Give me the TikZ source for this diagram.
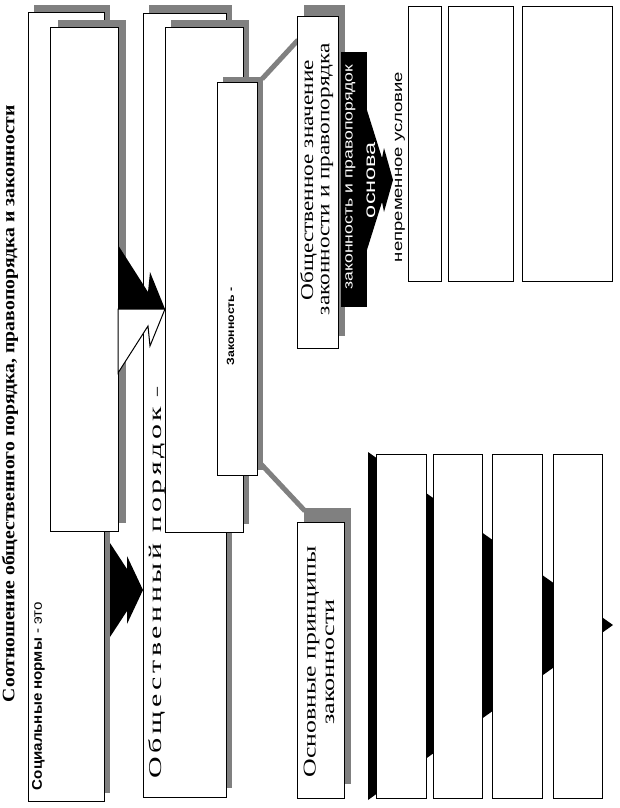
\documentclass[tikz,border=0pt]{standalone}
\usepackage{fontspec}
\setmainfont{Liberation Serif}
\setsansfont{Liberation Sans}
\usetikzlibrary{calc,backgrounds}
\definecolor{shd}{RGB}{128,128,128}
\newcommand\fitlen[2]{\resizebox{#1pt}{\height}{#2}}
% name, x1, y1, x2, y2, shadow dx, shadow up
\newcommand\shbox[7]{%
  \fill[shd] (#2+#6,#3-#7) rectangle (#4+#6,#5-#7);
  \node[box,minimum width={#4-#2},minimum height={#5-#3}] (#1) at (#2,#3) {};}
\newcommand\plainbox[5]{%
  \node[box,minimum width={#4-#2},minimum height={#5-#3}] (#1) at (#2,#3) {};}
\begin{document}
\begin{tikzpicture}[x=1pt,y=-1pt,
  box/.style={draw=black,line width=1pt,fill=white,inner sep=0pt,outer sep=0pt,anchor=north west},
  conn/.style={draw=shd,line width=5pt},
  lbl/.style={inner sep=0pt,rotate=90,anchor=center},
  serifA/.style={font=\fontsize{18}{20}\selectfont},
  sansA/.style={font=\fontsize{13.5}{15}\selectfont\sffamily}]
\useasboundingbox (0,0) rectangle (619,808);

% left stacks
\shbox{A}{28}{13}{104}{801}{6}{8}
\shbox{B}{50}{28}{118}{531}{8}{8}
\shbox{C}{143}{14}{226}{797}{6}{9}
\shbox{D}{165}{28}{243}{532}{6}{8}

\shbox{E}{217}{82}{257}{475}{6}{5}
\shbox{F}{297}{17}{338}{348}{7}{12}
\shbox{G}{297}{522}{344}{798}{7}{14}

% connectors from E to F and G (behind the boxes and shadows)
\begin{pgfonlayer}{background}
\fill[white] (0,0) rectangle (619,808);
\draw[conn] ($(E.north east)+(5,-3)$) -- ($(F.north west)+(1,23)$);
\draw[conn] ($(E.south east)+(3,-12)$) -- ($(G.north west)+(8,-11)$);
\end{pgfonlayer}

% chevron A -> C
\fill[black] (110,543) -- (127,569) -- (127,556) -- (143,590) -- (127,624) -- (127,611) -- (110,637) -- cycle;

% notched arrow B -> D
\fill[black] (118,245) -- (148,292) -- (150,272) -- (165,309) -- (118,309) -- cycle;
\filldraw[fill=white,draw=black,line width=1pt] (118,309) -- (165,309) -- (150,346) -- (148,326) -- (118,373) -- cycle;

% black callout
\fill[black] (341,52) rectangle (367,307);
\fill[black] (366,107) -- (382,158) -- (384,148) -- (393,180) -- (384,212) -- (382,202) -- (366,253) -- cycle;

% top right boxes
\plainbox{T1}{408}{7}{441}{281}
\plainbox{T2}{448}{7}{513}{281}
\plainbox{T3}{522}{7}{612}{281}

% bottom right: big triangle behind four boxes
\fill[black] (368,452) -- (613,625) -- (368,800) -- cycle;
\plainbox{U1}{376}{454}{426}{798}
\plainbox{U2}{433}{454}{482}{798}
\plainbox{U3}{492}{454}{542}{798}
\plainbox{U4}{553}{454}{602}{798}

% texts
\node[lbl,font=\fontsize{17.5}{19}\selectfont\bfseries] (title) at (10,403.5)
  {\fitlen{597}{Соотношение общественного порядка, правопорядка и законности}};
\node[lbl,font=\fontsize{14}{16}\selectfont\sffamily] (soc) at (38.5,696) {\fitlen{188}{\textbf{Социальные нормы} - это}};
\node[lbl,font=\fontsize{18}{20}\selectfont] (op) at (157,583)
  {\fitlen{372}{\addfontfeature{LetterSpace=12}Общественный порядок}\hspace{10pt}–};
\node[lbl,font=\fontsize{10.5}{12}\selectfont\sffamily\bfseries] (zak) at (230.5,326) {\fitlen{78}{Законность -}};
\node[lbl,serifA] (f1) at (308.5,180) {\fitlen{240}{Общественное значение}};
\node[lbl,serifA] (f2) at (327,179) {\fitlen{272}{законности и правопорядка}};
\node[lbl,sansA,text=white] (c1) at (350.5,177) {\fitlen{225}{законность и правопорядок}};
\node[lbl,font=\fontsize{16}{18}\selectfont\sffamily,text=white] (c2) at (371,180) {\fitlen{76}{основа}};
\node[lbl,sansA] (nu) at (400,167) {\fitlen{190}{непременное условие}};
\node[lbl,serifA] (g1) at (311.5,662) {\fitlen{231}{Основные принципы}};
\node[lbl,serifA] (g2) at (330,662) {\fitlen{125}{законности}};
\end{tikzpicture}
\end{document}
